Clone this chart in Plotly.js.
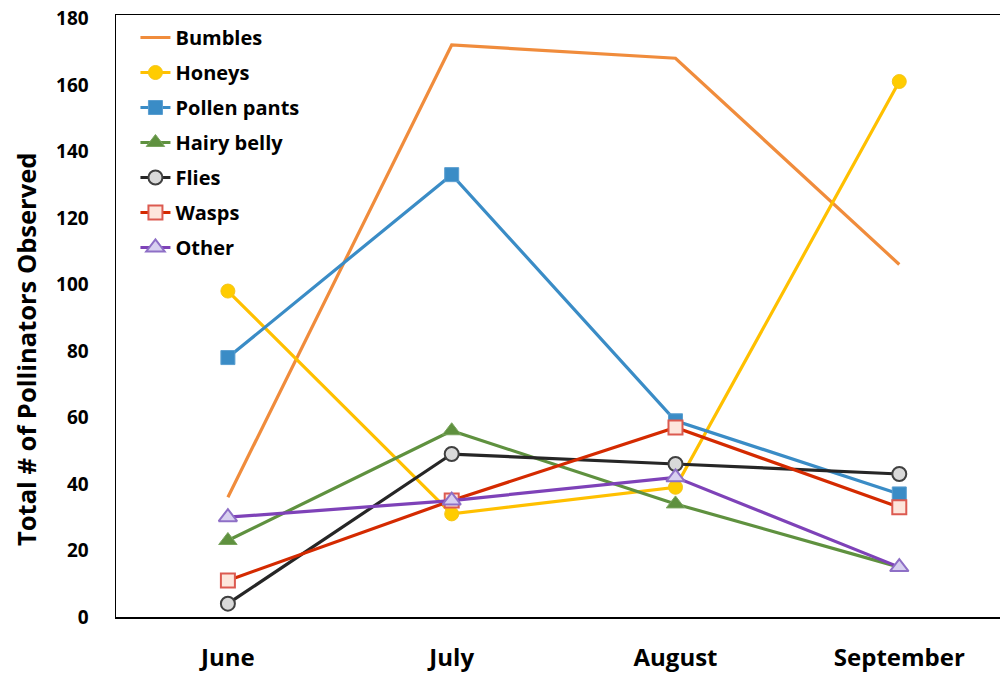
<!DOCTYPE html>
<html>
<head>
<meta charset="utf-8">
<script src="https://cdn.plot.ly/plotly-3.0.1.min.js"></script>
<style>html,body{margin:0;padding:0;background:#fff;}#chart{width:1000px;height:675px;}</style>
</head>
<body>
<div id="chart"></div>
<script>
const months = ["June", "July", "August", "September"];
const bumbles = [36, 172, 168, 106];
const honeys = [98, 31, 39, 161];
const pollenPants = [78, 133, 59, 37];
const hairyBelly = [23, 56, 34, 15];
const flies = [4, 49, 46, 43];
const wasps = [11, 35, 57, 33];
const other = [30, 35, 42, 15];
const yTicks = [0, 20, 40, 60, 80, 100, 120, 140, 160, 180];
const yTitle = "Total # of Pollinators Observed";

const FONT = "'Open Sans', Lato, sans-serif";

function tr(name, y, color, marker, gi) {
  const t = {
    type: "scatter", x: months, y: y, name: name,
    mode: marker ? "lines+markers" : "lines",
    line: {color: color, width: 3.2},
    legendgroup: "g" + gi,
    hoverinfo: "x+y+name"
  };
  if (marker) t.marker = marker;
  return t;
}

const data = [
  tr("Bumbles", bumbles, "#F08C3C", null, 1),
  tr("Honeys", honeys, "#FFC000", {symbol: "circle", size: 14, color: "#FFCC00", line: {color: "#F5C518", width: 1}}, 2),
  tr("Pollen pants", pollenPants, "#3A8CC6", {symbol: "square", size: 14, color: "#3A8CC6", line: {color: "#5A9ED0", width: 1}}, 3),
  tr("Hairy belly", hairyBelly, "#5F913F", {symbol: "triangle-up", size: 16, color: "#5F913F", line: {color: "#7AA55E", width: 1}}, 4),
  tr("Flies", flies, "#262626", {symbol: "circle", size: 14, color: "#D9D9D9", line: {color: "#404040", width: 2}}, 5),
  tr("Wasps", wasps, "#D42A00", {symbol: "square", size: 14, color: "#FDE6DC", line: {color: "#DC5A50", width: 2}}, 6),
  tr("Other", other, "#7E42B8", {symbol: "triangle-up", size: 16, color: "#D8D0F0", line: {color: "#8E6FC6", width: 2}}, 7)
];

const layout = {
  width: 1000, height: 675,
  margin: {l: 116, r: 0, t: 15, b: 58, pad: 0},
  paper_bgcolor: "#ffffff", plot_bgcolor: "#ffffff",
  font: {family: FONT, color: "#000000"},
  showlegend: true,
  legend: {
    x: 0.022, y: 0.995, xanchor: "left", yanchor: "top",
    bgcolor: "rgba(255,255,255,0)",
    font: {family: FONT, size: 20, color: "#000", weight: 700},
    traceorder: "grouped", tracegroupgap: 6,
    itemwidth: 30
  },
  xaxis: {
    type: "category", range: [-0.5, 3.45],
    showline: true, mirror: true, linecolor: "#000", linewidth: 1.5,
    showgrid: false, zeroline: false,
    ticks: "outside", ticklen: 19, tickcolor: "rgba(0,0,0,0)",
    tickfont: {family: FONT, size: 24, color: "#000", weight: 700},
    fixedrange: true
  },
  yaxis: {
    range: [0, 181], tickvals: yTicks, ticktext: yTicks.map(String),
    showline: true, linecolor: "#000", linewidth: 1.5,
    showgrid: false, zeroline: false,
    ticks: "outside", ticklen: 22, tickcolor: "rgba(0,0,0,0)",
    tickfont: {family: FONT, size: 19, color: "#000", weight: 700},
    fixedrange: true
  },
  annotations: [{
    text: yTitle, textangle: -90, showarrow: false,
    xref: "paper", yref: "paper", x: -0.102, y: 0.445,
    xanchor: "center", yanchor: "middle",
    font: {family: FONT, size: 25.5, color: "#000", weight: 700}
  }]
};

Plotly.newPlot("chart", data, layout, {displayModeBar: false, staticPlot: true});
</script>
</body>
</html>
